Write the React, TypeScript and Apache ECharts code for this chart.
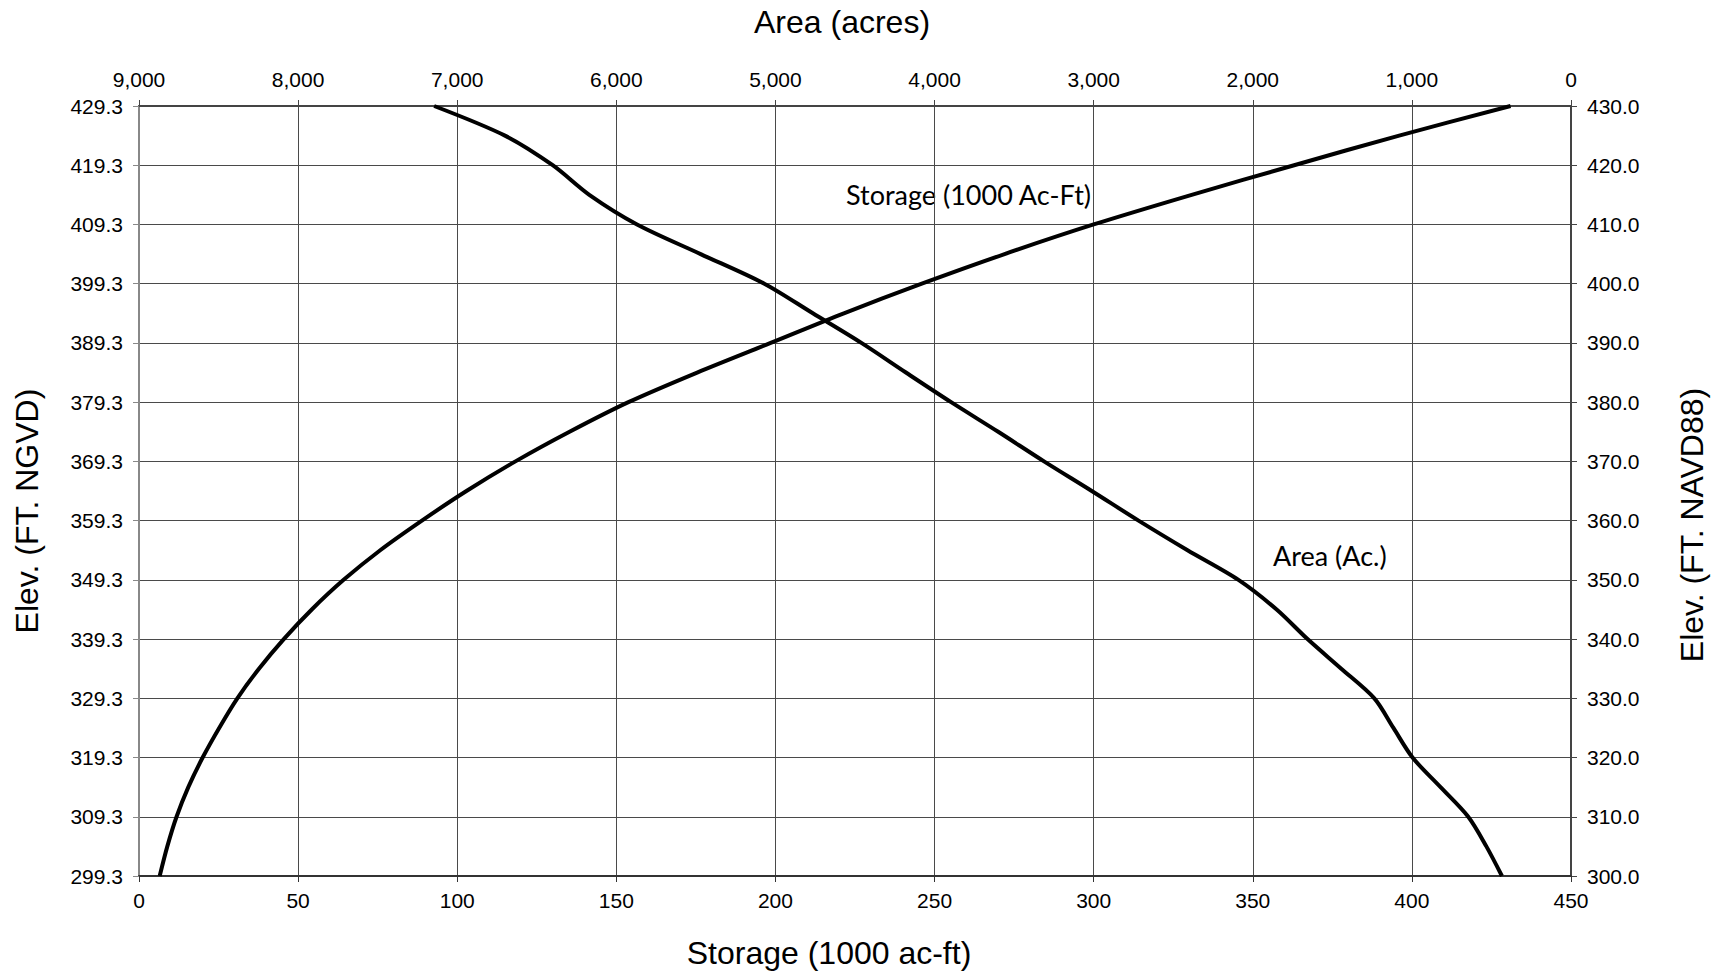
import React, { useEffect, useRef } from "react";
import * as echarts from "echarts";

// Elevation in FT. NAVD88 (right axis); left axis shows NGVD = NAVD88 - 0.7
const elevations = [
  300, 305, 310, 315, 320, 325, 330, 335, 340, 345, 350, 355, 360, 365,
  370, 375, 380, 385, 390, 395, 400, 405, 410, 415, 420, 425, 430,
];
// Storage (1000 ac-ft) at each elevation
const storageValues = [
  6.5, 8.9, 11.8, 15.5, 20.0, 25.2, 30.9, 37.7, 45.5, 54.3, 64.3, 75.8, 88.9,
  102.9, 118.3, 135.3, 153.8, 175.4, 198.5, 221.5, 246, 272, 300, 330.8, 363,
  396, 431,
];
// Area (acres) at each elevation
const areaValues = [
  434, 532, 646, 820, 996, 1116, 1236, 1444, 1656, 1850, 2090, 2410, 2718,
  3012, 3312, 3600, 3896, 4180, 4460, 4765, 5070, 5470, 5870, 6170, 6400,
  6700, 7145,
];
const DATUM_OFFSET = 0.7; // NGVD label = NAVD88 value - 0.7

const TICK_FONT = "'Liberation Sans', Arial, sans-serif";
const NOTE_FONT = "Lato, 'Open Sans', sans-serif";

export default function App() {
  const ref = useRef<HTMLDivElement>(null);
  useEffect(() => {
    if (!ref.current) return;
    const chart = echarts.init(ref.current, undefined, { renderer: "svg" });
    const storageData = elevations.map((e, i) => [storageValues[i], e]);
    const areaData = elevations.map((e, i) => [areaValues[i], e]);
    const tickLabel = { color: "#000", fontFamily: TICK_FONT, fontSize: 21 };
    const gridLine = { show: true, lineStyle: { color: "#4a4a4a", width: 1 } };
    chart.setOption({
      animation: false,
      backgroundColor: "#fff",
      grid: { left: 139, right: 148, top: 106, bottom: 99, containLabel: false },
      xAxis: [
        {
          type: "value",
          position: "bottom",
          min: 0,
          max: 450,
          interval: 50,
          axisLine: { show: true, lineStyle: { color: "#333", width: 2 } },
          axisTick: { show: true, length: 6, lineStyle: { color: "#333" } },
          axisLabel: { ...tickLabel, margin: 14 },
          splitLine: gridLine,
        },
        {
          type: "value",
          position: "top",
          inverse: true,
          min: 0,
          max: 9000,
          interval: 1000,
          axisLine: { show: true, lineStyle: { color: "#444", width: 2 } },
          axisTick: { show: true, length: 6, lineStyle: { color: "#444" } },
          axisLabel: {
            ...tickLabel,
            margin: 16,
            formatter: (v: number) => v.toLocaleString("en-US"),
          },
          splitLine: { show: false },
        },
      ],
      yAxis: [
        {
          type: "value",
          position: "left",
          min: 300,
          max: 430,
          interval: 10,
          axisLine: { show: true, lineStyle: { color: "#888", width: 2 } },
          axisTick: { show: true, length: 6, lineStyle: { color: "#888" } },
          axisLabel: {
            ...tickLabel,
            margin: 16,
            formatter: (v: number) => (v - DATUM_OFFSET).toFixed(1),
          },
          splitLine: gridLine,
        },
        {
          type: "value",
          position: "right",
          min: 300,
          max: 430,
          interval: 10,
          axisLine: { show: true, lineStyle: { color: "#444", width: 2 } },
          axisTick: { show: true, length: 6, lineStyle: { color: "#444" } },
          axisLabel: {
            ...tickLabel,
            margin: 16,
            formatter: (v: number) => v.toFixed(1),
          },
          splitLine: { show: false },
        },
      ],
      series: [
        {
          name: "Storage (1000 Ac-Ft)",
          type: "line",
          xAxisIndex: 0,
          yAxisIndex: 1,
          data: storageData,
          showSymbol: false,
          smooth: 0.3,
          lineStyle: { color: "#000", width: 4 },
        },
        {
          name: "Area (Ac.)",
          type: "line",
          xAxisIndex: 1,
          yAxisIndex: 1,
          data: areaData,
          showSymbol: false,
          smooth: 0.3,
          lineStyle: { color: "#000", width: 4 },
        },
      ],
      graphic: [
        {
          type: "text",
          x: 842,
          y: 22,
          style: {
            text: "Area (acres)",
            font: `32px ${TICK_FONT}`,
            fill: "#000",
            align: "center",
            verticalAlign: "middle",
          },
        },
        {
          type: "text",
          x: 829,
          y: 953,
          style: {
            text: "Storage (1000 ac-ft)",
            font: `32px ${TICK_FONT}`,
            fill: "#000",
            align: "center",
            verticalAlign: "middle",
          },
        },
        {
          type: "text",
          x: 27,
          y: 511,
          rotation: Math.PI / 2,
          style: {
            text: "Elev. (FT. NGVD)",
            font: `32px ${TICK_FONT}`,
            fill: "#000",
            align: "center",
            verticalAlign: "middle",
          },
        },
        {
          type: "text",
          x: 1692,
          y: 525,
          rotation: Math.PI / 2,
          style: {
            text: "Elev. (FT. NAVD88)",
            font: `32px ${TICK_FONT}`,
            fill: "#000",
            align: "center",
            verticalAlign: "middle",
          },
        },
        {
          type: "text",
          x: 846,
          y: 194,
          style: {
            text: "Storage (1000 Ac-Ft)",
            font: `27px ${NOTE_FONT}`,
            fill: "#000",
            align: "left",
            verticalAlign: "middle",
          },
        },
        {
          type: "text",
          x: 1273,
          y: 555,
          style: {
            text: "Area (Ac.)",
            font: `27px ${NOTE_FONT}`,
            fill: "#000",
            align: "left",
            verticalAlign: "middle",
          },
        },
      ],
    });
    return () => chart.dispose();
  }, []);
  return (
    <div
      ref={ref}
      style={{ position: "fixed", left: 0, top: 0, width: 1719, height: 975, background: "#fff" }}
    />
  );
}
